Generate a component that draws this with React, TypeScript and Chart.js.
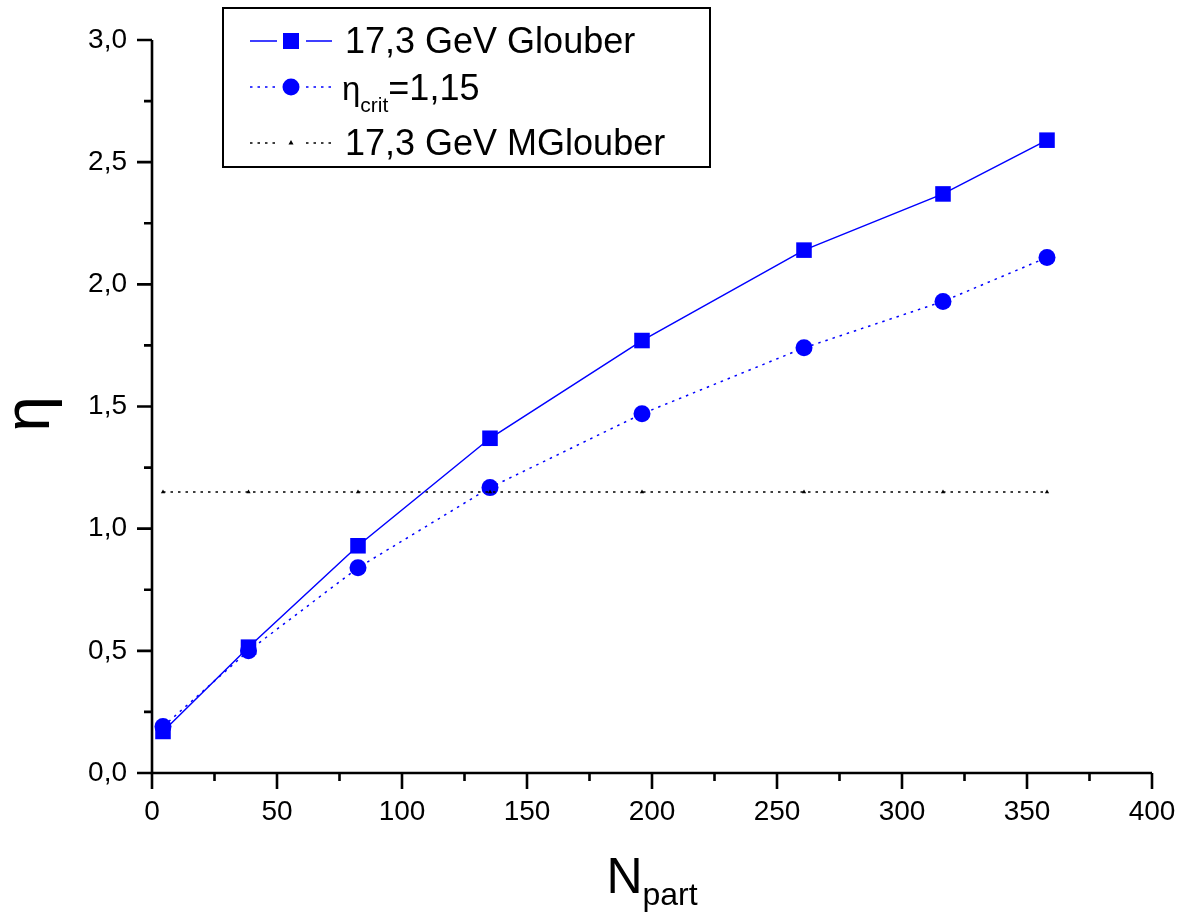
import React, { useEffect, useRef } from "react";
import { Chart, registerables } from "chart.js";

Chart.register(...registerables);

const npart = [4.4, 38.6, 82.4, 135.2, 196, 260.8, 316.4, 358];
const glouber = [0.17, 0.515, 0.93, 1.37, 1.77, 2.14, 2.37, 2.59];
const etaCritSeries = [0.19, 0.5, 0.84, 1.168, 1.47, 1.74, 1.93, 2.11];
const mglouber = [1.15, 1.15, 1.15, 1.15, 1.15, 1.15, 1.15, 1.15];

const legendLabels = ["17,3 GeV Glouber", "=1,15", "17,3 GeV MGlouber"];
const xTitle = ["N", "part"];
const yTitle = "η";

const X_MIN = 0, X_MAX = 400, X_MAJOR = 50, X_MINOR = 25;
const Y_MIN = 0, Y_MAX = 3, Y_MAJOR = 0.5, Y_MINOR = 0.25;

const FONT = "'Liberation Sans', Arial, sans-serif";
const BLUE = "#0000FF";

const toPts = (ys: number[]) => npart.map((x, i) => ({ x, y: ys[i] }));

const decoPlugin = {
  id: "deco",
  afterDraw(chart: any) {
    const { ctx, chartArea, scales } = chart;
    const xs = scales.x, ys = scales.y;
    const L = chartArea.left, B = chartArea.bottom;
    ctx.save();
    ctx.strokeStyle = "#000";
    ctx.lineWidth = 2.6;
    ctx.lineJoin = "miter";
    ctx.lineCap = "butt";
    ctx.beginPath();
    ctx.moveTo(L, ys.getPixelForValue(Y_MAX));
    ctx.lineTo(L, B);
    ctx.lineTo(xs.getPixelForValue(X_MAX), B);
    ctx.stroke();
    // x ticks
    ctx.beginPath();
    for (let v = X_MIN; v <= X_MAX + 1e-9; v += X_MINOR) {
      const px = xs.getPixelForValue(v);
      const major = Math.abs(v / X_MAJOR - Math.round(v / X_MAJOR)) < 1e-6;
      ctx.moveTo(px, B);
      ctx.lineTo(px, B + (major ? 16 : 8));
    }
    // y ticks
    for (let v = Y_MIN; v <= Y_MAX + 1e-9; v += Y_MINOR) {
      const py = ys.getPixelForValue(v);
      const major = Math.abs(v / Y_MAJOR - Math.round(v / Y_MAJOR)) < 1e-6;
      ctx.moveTo(L, py);
      ctx.lineTo(L - (major ? 15 : 8), py);
    }
    ctx.stroke();

    // axis titles
    ctx.fillStyle = "#000";
    ctx.textBaseline = "alphabetic";
    ctx.textAlign = "left";
    ctx.font = `50px ${FONT}`;
    const wN = ctx.measureText(xTitle[0]).width;
    ctx.font = `32px ${FONT}`;
    const wP = ctx.measureText(xTitle[1]).width;
    const cx = (chartArea.left + chartArea.right) / 2;
    const sx = cx - (wN + wP) / 2;
    ctx.font = `50px ${FONT}`;
    ctx.fillText(xTitle[0], sx, 893);
    ctx.font = `32px ${FONT}`;
    ctx.fillText(xTitle[1], sx + wN, 905);

    ctx.save();
    ctx.translate(49, 414);
    ctx.rotate(-Math.PI / 2);
    ctx.textAlign = "center";
    ctx.font = `64px ${FONT}`;
    ctx.fillText(yTitle, 0, 0);
    ctx.restore();

    // legend
    ctx.lineWidth = 2;
    ctx.strokeStyle = "#000";
    ctx.strokeRect(223, 8, 487, 159);
    const symX = 291;
    // row 1
    ctx.strokeStyle = BLUE;
    ctx.lineWidth = 1.5;
    ctx.setLineDash([]);
    ctx.beginPath();
    ctx.moveTo(250, 41); ctx.lineTo(277, 41);
    ctx.moveTo(306, 41); ctx.lineTo(332, 41);
    ctx.stroke();
    ctx.fillStyle = BLUE;
    ctx.fillRect(symX - 8, 41 - 8, 16, 16);
    // row 2
    ctx.setLineDash([2.5, 5]);
    ctx.beginPath();
    ctx.moveTo(250, 87); ctx.lineTo(276, 87);
    ctx.moveTo(306, 87); ctx.lineTo(332, 87);
    ctx.stroke();
    ctx.setLineDash([]);
    ctx.beginPath();
    ctx.arc(symX, 87, 8.5, 0, Math.PI * 2);
    ctx.fill();
    // row 3
    ctx.strokeStyle = "#000";
    ctx.setLineDash([2.5, 5]);
    ctx.beginPath();
    ctx.moveTo(250, 143); ctx.lineTo(276, 143);
    ctx.moveTo(306, 143); ctx.lineTo(332, 143);
    ctx.stroke();
    ctx.setLineDash([]);
    ctx.fillStyle = "#000";
    ctx.beginPath();
    ctx.moveTo(symX, 140); ctx.lineTo(symX + 2.5, 144.5); ctx.lineTo(symX - 2.5, 144.5);
    ctx.closePath();
    ctx.fill();

    ctx.fillStyle = "#000";
    ctx.textAlign = "left";
    ctx.font = `36px ${FONT}`;
    ctx.fillText(legendLabels[0], 345, 53);
    ctx.font = `33px ${FONT}`;
    ctx.fillText("η", 342, 100);
    const wEta = ctx.measureText("η").width;
    ctx.font = `21px ${FONT}`;
    ctx.fillText("crit", 342 + wEta, 112);
    const wCrit = ctx.measureText("crit").width;
    ctx.font = `36px ${FONT}`;
    ctx.fillText(legendLabels[1], 342 + wEta + wCrit, 100);
    ctx.fillText(legendLabels[2], 345, 155);
    ctx.restore();
  },
};

export default function App() {
  const ref = useRef<HTMLCanvasElement | null>(null);
  useEffect(() => {
    if (!ref.current) return;
    const chart = new Chart(ref.current, {
      type: "line",
      data: {
        datasets: [
          {
            label: "17,3 GeV MGlouber",
            data: toPts(mglouber),
            borderColor: "#000",
            backgroundColor: "#000",
            borderWidth: 1.5,
            borderDash: [2.5, 5],
            pointStyle: "triangle",
            pointRadius: 2.5,
            pointBorderWidth: 0,
          },
          {
            label: "ηcrit=1,15",
            data: toPts(etaCritSeries),
            borderColor: BLUE,
            backgroundColor: BLUE,
            borderWidth: 1.5,
            borderDash: [2.5, 5],
            pointStyle: "circle",
            pointRadius: 8.5,
            pointBorderWidth: 0,
          },
          {
            label: "17,3 GeV Glouber",
            data: toPts(glouber),
            borderColor: BLUE,
            backgroundColor: BLUE,
            borderWidth: 1.5,
            pointStyle: "rect",
            pointRadius: 11,
            pointBorderWidth: 0,
          },
        ],
      },
      options: {
        responsive: false,
        animation: false,
        devicePixelRatio: 1,
        layout: { padding: { top: 40, right: 28, left: 0, bottom: 0 } },
        plugins: { legend: { display: false }, tooltip: { enabled: false } },
        scales: {
          x: {
            type: "linear",
            min: X_MIN,
            max: X_MAX,
            grid: { display: false, drawTicks: false },
            border: { display: false },
            ticks: {
              stepSize: X_MAJOR,
              padding: 22,
              color: "#000",
              font: { family: FONT, size: 28 },
              maxRotation: 0,
              autoSkip: false,
            },
            afterFit: (s: any) => { s.height = 140; s.paddingLeft = 0; s.paddingRight = 0; },
          },
          y: {
            type: "linear",
            min: Y_MIN,
            max: Y_MAX,
            grid: { display: false, drawTicks: false },
            border: { display: false },
            ticks: {
              stepSize: Y_MAJOR,
              padding: 25,
              color: "#000",
              font: { family: FONT, size: 28 },
              callback: (v: any) => Number(v).toFixed(1).replace(".", ","),
            },
            afterFit: (s: any) => { s.width = 152; s.paddingTop = 0; s.paddingBottom = 0; },
          },
        },
      },
      plugins: [decoPlugin],
    });
    return () => chart.destroy();
  }, []);
  return (
    <div style={{ position: "fixed", left: 0, top: 0, width: 1180, height: 913, background: "#fff" }}>
      <canvas ref={ref} width={1180} height={913} style={{ display: "block" }} />
    </div>
  );
}
